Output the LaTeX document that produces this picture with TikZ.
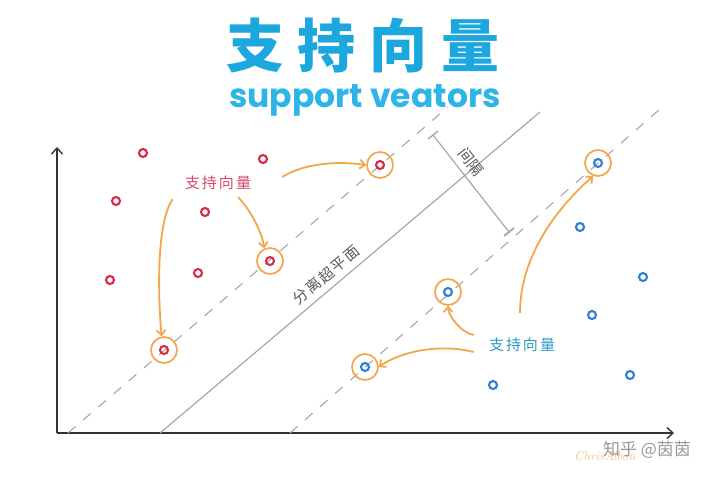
\documentclass[tikz,border=0pt]{standalone}
\usepackage{fontspec}
\newfontfamily\cjk{Noto Sans CJK SC}
\newfontfamily\popfont{Poppins}
\usetikzlibrary{arrows.meta}

\definecolor{titleblue}{HTML}{1DA7DF}
\definecolor{subblue}{HTML}{2DB5E8}
\definecolor{ptred}{HTML}{D92A4E}
\definecolor{ptblue}{HTML}{2E7FD4}
\definecolor{ringor}{HTML}{F3A64C}
\definecolor{lblred}{HTML}{D9486C}
\definecolor{lblblue}{HTML}{2A9CC2}
\definecolor{linegray}{HTML}{A3A8B0}

\begin{document}
\begin{tikzpicture}[x=1pt, y=-1pt,
    every node/.style={inner sep=0pt},
    redpt/.style={circle, draw=ptred, line width=2.1pt, minimum size=8pt},
    bluept/.style={circle, draw=ptblue, line width=2.1pt, minimum size=8pt},
    svring/.style={circle, draw=ringor, line width=1.7pt, minimum size=26pt},
    orarr/.style={draw=ringor, line width=1.8pt, -{Straight Barb[length=5pt,width=9pt]}},
    axis/.style={draw=black!80, line width=1.4pt, -{Straight Barb[length=6pt,width=11pt]}},
    margin/.style={draw=linegray, line width=1.1pt, dash pattern=on 10pt off 10pt},
    hyper/.style={draw=linegray, line width=1.2pt},
    lbl/.style={font=\cjk\fontsize{15}{16}\selectfont},
]
    \useasboundingbox[fill=white] (0,0) rectangle (720,480);

    % title
    \node[font=\cjk\bfseries\fontsize{58}{60}\selectfont, text=titleblue] (title) at (363,45)
        {支\hspace{14pt}持\hspace{14pt}向\hspace{14pt}量};
    \node[font=\popfont\bfseries\fontsize{33}{35}\selectfont, text=subblue] (sub) at (365,100)
        {support veators};

    % axes
    \coordinate (o) at (57,433);
    \coordinate (ytop) at (57,147);
    \coordinate (xend) at (674,433);
    \draw[axis] (o) -- (ytop);
    \draw[axis] (o) -- (xend);

    % hyperplane and margins
    \coordinate (h1) at (160,433);
    \coordinate (h2) at (540,112);
    \draw[hyper] (h1) -- (h2)
        node[pos=0.46, above=6pt, sloped, lbl, text=black!65] (hlbl)
        {分\hspace{1.5pt}离\hspace{1.5pt}超\hspace{1.5pt}平\hspace{1.5pt}面};
    \coordinate (u1) at (68,433);
    \coordinate (u2) at (448,107);
    \draw[margin] (u1) -- (u2);
    \coordinate (d1) at (290,433);
    \coordinate (d2) at (660,109);
    \draw[margin] (d1) -- (d2);

    % gap
    \coordinate (m1) at (433,135);
    \coordinate (m2) at (509,232);
    \draw[hyper] (m1) -- (m2)
        node[pos=0.36, above=6pt, sloped, lbl, text=black!65] (glbl) {间隔};
    \draw[hyper, line width=1.4pt] ([shift={(-5,4)}]m1) -- ([shift={(5,-4)}]m1);
    \draw[hyper, line width=1.8pt] ([shift={(-5,4)}]m2) -- ([shift={(5,-4)}]m2);

    % red class
    \node[redpt] (r1) at (143,153) {};
    \node[redpt] (r2) at (263,159) {};
    \node[redpt] (r3) at (116,201) {};
    \node[redpt] (r4) at (205,212) {};
    \node[redpt] (r5) at (110,280) {};
    \node[redpt] (r6) at (198,273) {};
    \node[svring] (sv1) at (164,350) {};
    \node[redpt] (r7) at (sv1) {};
    \node[svring] (sv2) at (270,261) {};
    \node[redpt] (r8) at (sv2) {};
    \node[svring] (sv3) at (380,165) {};
    \node[redpt] (r9) at (sv3) {};

    % blue class
    \node[bluept] (b1) at (580,227) {};
    \node[bluept] (b2) at (643,277) {};
    \node[bluept] (b3) at (592,315) {};
    \node[bluept] (b4) at (630,375) {};
    \node[bluept] (b5) at (493,385) {};
    \node[svring] (sv4) at (598,163) {};
    \node[bluept] (b6) at (sv4) {};
    \node[svring] (sv5) at (448,292) {};
    \node[bluept] (b7) at (sv5) {};
    \node[svring] (sv6) at (365,367) {};
    \node[bluept] (b8) at (sv6) {};

    % labels and arrows
    \node[lbl, text=lblred] (rlbl) at (218,183) {支\hspace{2pt}持\hspace{2pt}向\hspace{2pt}量};
    \draw[orarr] ([shift={(31,-6)}]rlbl.east) .. controls +(22,-14) and +(-28,-4) .. (sv3.west);
    \draw[orarr] ([shift={(-12,9)}]rlbl.south west) .. controls +(-16,22) and +(-4,-45) .. (sv1.100);
    \draw[orarr] ([shift={(20,7)}]rlbl.south) .. controls +(12,12) and +(-2,-16) .. (sv2.115);

    \node[lbl, text=lblblue] (blbl) at (522,345) {支\hspace{2pt}持\hspace{2pt}向\hspace{2pt}量};
    \draw[orarr] ([shift={(-2,-25)}]blbl.north) .. controls +(0,-60) and +(-32,28) .. (sv4.250);
    \draw[orarr] ([shift={(-15,-10)}]blbl.west) .. controls +(-13,-2) and +(0,9) .. (sv5.south);
    \draw[orarr] ([shift={(-15,7)}]blbl.west) .. controls +(-40,-10) and +(16,-12) .. (sv6.east);

    % watermark
    \node[font=\itshape\fontsize{13}{14}\selectfont, text=ringor!70] (sig) at (605,456) {ChrisAlbon};
    \node[font=\cjk\fontsize{17}{18}\selectfont, text=black!40] (wm) at (647,450) {知乎 @茵茵};
\end{tikzpicture}
\end{document}
